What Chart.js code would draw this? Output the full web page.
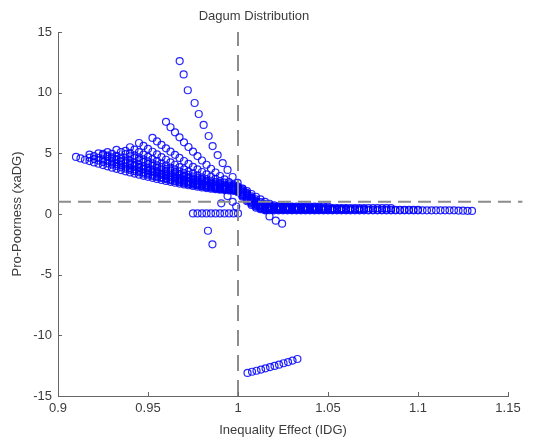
<!DOCTYPE html>
<html>
<head>
<meta charset="utf-8">
<title>Dagum Distribution</title>
<script src="https://cdn.jsdelivr.net/npm/chart.js@4.4.0/dist/chart.umd.min.js"></script>
<style>
  body { margin: 0; background: #fff; }
  #chart { display: block; }
</style>
</head>
<body>
<canvas id="chart" width="538" height="441"></canvas>
<script>
// x positions of the fan lines left of x = 1 (each line ends at 0.9975)
var fanX = [0.91, 0.9125, 0.915, 0.9175, 0.92, 0.9225, 0.925, 0.9275, 0.93, 0.9325,
  0.935, 0.9375, 0.94, 0.9425, 0.945, 0.9475, 0.95, 0.9525, 0.955, 0.9575,
  0.96, 0.9625, 0.965, 0.9675, 0.97, 0.9725, 0.975, 0.9775, 0.98, 0.9825,
  0.985, 0.9875, 0.99, 0.9925, 0.995, 0.9975];
// x positions of the flat band right of x = 1 (each line starts at 1.0)
var bandX = [1.0, 1.0025, 1.005, 1.0075, 1.01, 1.0125, 1.015, 1.0175, 1.02, 1.0225,
  1.025, 1.0275, 1.03, 1.0325, 1.035, 1.0375, 1.04, 1.0425, 1.045, 1.0475,
  1.05, 1.0525, 1.055, 1.0575, 1.06, 1.0625, 1.065, 1.0675, 1.07, 1.0725,
  1.075, 1.0775, 1.08, 1.0825, 1.085, 1.0875, 1.09, 1.0925, 1.095, 1.0975,
  1.1, 1.1025, 1.105, 1.1075, 1.11, 1.1125, 1.115, 1.1175, 1.12, 1.1225,
  1.125, 1.1275, 1.13];

// steepest line, read point by point
var steepX = [0.9676, 0.9698, 0.9721, 0.9759, 0.9782, 0.9809, 0.9837, 0.9859, 0.9887, 0.9915,
  0.9942, 0.997, 0.9998, 1.0025, 1.005, 1.0075, 1.01, 1.0125, 1.015, 1.0175, 1.021, 1.0245];
var steepY = [12.6, 11.5, 10.2, 9.15, 8.24, 7.34, 6.43, 5.6, 4.86, 4.2,
  3.63, 3.05, 2.56, 2.1, 1.7, 1.35, 1.05, 0.7, 0.3, -0.2, -0.55, -0.8];

// fan lines (y values, right-aligned on fanX)
var fan2 = [7.6, 7.15, 6.73, 6.32, 5.91, 5.52, 5.14, 4.77, 4.41, 4.06, 3.73, 3.42, 3.13, 2.86, 2.62, 2.41];
var fan3 = [6.27, 5.98, 5.69, 5.41, 5.14, 4.88, 4.62, 4.37, 4.13, 3.89, 3.67, 3.46, 3.26, 3.07, 2.89, 2.72, 2.58, 2.45, 2.35];
var fan4 = [5.85, 5.61, 5.36, 5.13, 4.91, 4.69, 4.47, 4.26, 4.06, 3.87, 3.68, 3.5, 3.34, 3.18, 3.02, 2.88, 2.74, 2.62, 2.51, 2.42, 2.34, 2.28];
var fan5 = [5.5, 5.3, 5.1, 4.9, 4.71, 4.53, 4.35, 4.17, 4.0, 3.83, 3.67, 3.52, 3.37, 3.22, 3.09, 2.96, 2.83, 2.72, 2.61, 2.51, 2.42, 2.35, 2.28, 2.23];
var fanA = [5.2, 5.02, 4.84, 4.67, 4.5, 4.33, 4.17, 4.01, 3.86, 3.71, 3.57, 3.43, 3.29, 3.17, 3.04, 2.92, 2.81, 2.7, 2.6, 2.51, 2.42, 2.35, 2.28, 2.22, 2.17];
var fan6 = [5.28, 5.11, 4.93, 4.76, 4.6, 4.44, 4.28, 4.13, 3.98, 3.83, 3.69, 3.55, 3.42, 3.29, 3.16, 3.04, 2.93, 2.82, 2.71, 2.61, 2.52, 2.43, 2.35, 2.28, 2.22, 2.16, 2.12];
var fan7 = [5.1, 4.95, 4.79, 4.64, 4.49, 4.35, 4.2, 4.07, 3.93, 3.8, 3.67, 3.54, 3.42, 3.3, 3.18, 3.07, 2.97, 2.86, 2.76, 2.67, 2.58, 2.49, 2.41, 2.34, 2.27, 2.21, 2.15, 2.1, 2.07];
var fanB = [4.95, 4.81, 4.67, 4.53, 4.39, 4.26, 4.13, 4.0, 3.87, 3.75, 3.63, 3.51, 3.4, 3.29, 3.18, 3.08, 2.98, 2.88, 2.78, 2.69, 2.61, 2.53, 2.45, 2.38, 2.31, 2.25, 2.19, 2.14, 2.1, 2.07];
var fan8 = [5.0, 4.86, 4.71, 4.57, 4.44, 4.31, 4.17, 4.04, 3.92, 3.8, 3.67, 3.55, 3.44, 3.33, 3.22, 3.11, 3.01, 2.91, 2.81, 2.72, 2.64, 2.55, 2.47, 2.39, 2.32, 2.26, 2.2, 2.14, 2.09, 2.05, 2.02];
var fan9 = [4.9, 4.77, 4.63, 4.5, 4.38, 4.25, 4.13, 4.02, 3.9, 3.78, 3.67, 3.56, 3.45, 3.34, 3.24, 3.14, 3.04, 2.95, 2.86, 2.76, 2.68, 2.6, 2.52, 2.44, 2.37, 2.3, 2.24, 2.18, 2.12, 2.07, 2.03, 1.99, 1.96];
var fanC = [4.65, 4.53, 4.41, 4.29, 4.18, 4.07, 3.96, 3.85, 3.74, 3.64, 3.53, 3.44, 3.33, 3.24, 3.15, 3.05, 2.97, 2.88, 2.8, 2.72, 2.64, 2.56, 2.49, 2.43, 2.36, 2.3, 2.24, 2.19, 2.14, 2.09, 2.05, 2.02, 1.99];
var fan10 = [4.7, 4.58, 4.47, 4.36, 4.25, 4.14, 4.03, 3.93, 3.82, 3.72, 3.62, 3.52, 3.43, 3.33, 3.24, 3.15, 3.06, 2.98, 2.89, 2.81, 2.73, 2.65, 2.58, 2.51, 2.44, 2.37, 2.31, 2.25, 2.19, 2.14, 2.09, 2.05, 2.0, 1.97, 1.94, 1.91];

// the same lines continued right of x = 1 (y values, left-aligned on bandX)
var band2 = [2.25, 2.08, 1.88, 1.65, 1.42, 1.2, 1.0, 0.84, 0.72, 0.64, 0.6, 0.58, 0.57];
var band3 = [2.2, 1.98, 1.72, 1.45, 1.2, 0.98, 0.82, 0.7, 0.62, 0.57, 0.54, 0.52, 0.51, 0.5, 0.5, 0.5, 0.5];
var band4 = [2.15, 1.92, 1.62, 1.32, 1.05, 0.85, 0.72, 0.65, 0.62, 0.6,
  0.6, 0.6, 0.6, 0.6, 0.6, 0.6, 0.6, 0.6, 0.6, 0.6, 0.6];
var band5 = [2.1, 1.85, 1.55, 1.25, 0.98, 0.78, 0.62, 0.52, 0.47, 0.45,
  0.45, 0.45, 0.45, 0.45, 0.45, 0.45, 0.45, 0.45, 0.45, 0.45,
  0.45, 0.45, 0.45, 0.45, 0.45];
var bandA = [2.05, 1.8, 1.5, 1.2, 0.95, 0.75, 0.62, 0.55, 0.52, 0.5, 0.5, 0.5];
var band6 = [2.0, 1.75, 1.45, 1.15, 0.9, 0.72, 0.62, 0.57, 0.55, 0.55,
  0.55, 0.55, 0.55, 0.55, 0.55, 0.55, 0.55, 0.55, 0.55];
var band7 = [1.95, 1.65, 1.32, 1.02, 0.78, 0.6, 0.5, 0.44, 0.41, 0.4,
  0.4, 0.4, 0.4, 0.4, 0.4, 0.4, 0.4, 0.4, 0.4, 0.4,
  0.4, 0.4, 0.4, 0.4, 0.4, 0.4, 0.4, 0.4, 0.4];
var bandB = [1.95, 1.68, 1.38, 1.08, 0.82, 0.63, 0.52, 0.46, 0.43, 0.42,
  0.42, 0.42, 0.42, 0.42, 0.42, 0.42];
var band8 = [1.9, 1.6, 1.28, 0.98, 0.75, 0.6, 0.54, 0.5, 0.48, 0.48,
  0.48, 0.48, 0.48, 0.48, 0.48, 0.48, 0.48, 0.48, 0.48, 0.48,
  0.48, 0.48, 0.48, 0.48, 0.48, 0.48, 0.48, 0.48, 0.48, 0.48,
  0.48, 0.48, 0.48, 0.48, 0.48];
var band9 = [1.85, 1.5, 1.15, 0.85, 0.62, 0.47, 0.4, 0.37, 0.35, 0.35,
  0.35, 0.35, 0.35, 0.35, 0.35, 0.35, 0.35, 0.35, 0.35, 0.35,
  0.35, 0.35, 0.35, 0.35, 0.35, 0.35, 0.35, 0.35, 0.35, 0.35,
  0.35, 0.35, 0.35, 0.35, 0.35, 0.35, 0.35, 0.35, 0.35, 0.35, 0.35];
var bandC = [1.88, 1.55, 1.2, 0.9, 0.66, 0.5, 0.42, 0.38, 0.37, 0.37,
  0.37, 0.37, 0.37, 0.37, 0.37, 0.37, 0.37, 0.37, 0.37, 0.37,
  0.37, 0.37, 0.37, 0.37, 0.37];
var band10 = [1.8, 1.42, 1.05, 0.75, 0.52, 0.4, 0.34, 0.31, 0.3, 0.3,
  0.3, 0.3, 0.3, 0.3, 0.3, 0.3, 0.3, 0.3, 0.3, 0.3,
  0.3, 0.3, 0.3, 0.3, 0.3, 0.3, 0.3, 0.3, 0.3, 0.3,
  0.3, 0.3, 0.3, 0.3, 0.3, 0.3, 0.3, 0.3, 0.3, 0.3,
  0.3, 0.3, 0.3, 0.3, 0.3, 0.3, 0.3, 0.3, 0.3, 0.28,
  0.27, 0.26, 0.25];

// row sitting on zero just left of x = 1
var zeroRowX = [0.975, 0.9775, 0.98, 0.9825, 0.985, 0.9875, 0.99, 0.9925, 0.995, 0.9975, 1.0];
var zeroRowY = [0.05, 0.05, 0.05, 0.05, 0.05, 0.05, 0.05, 0.05, 0.05, 0.05, 0.05];
// loose points
var strayX = [0.9942, 0.9907, 0.997, 0.999, 0.9833, 0.9858];
var strayY = [1.48, 0.88, 1.0, 0.62, -1.38, -2.5];
// short line near the bottom
var lowX = [1.0053, 1.0078, 1.0103, 1.0128, 1.0153, 1.0178, 1.0203, 1.0228, 1.0253, 1.0278, 1.0303, 1.033];
var lowY = [-13.1, -13.0, -12.92, -12.82, -12.72, -12.62, -12.52, -12.42, -12.3, -12.2, -12.08, -11.95];

// reference lines and axis ranges
var refX = 1;
var refY = 1;
var xTicksMin = 0.9, xTicksMax = 1.15, xStep = 0.05;
var yTicksMin = -15, yTicksMax = 15, yStep = 5;

function pairs(xs, ys) {
  return ys.map(function(y, i) { return {x: xs[i], y: y}; });
}
function fanLine(fanY, bandY) {
  var start = fanX.length - fanY.length;
  return pairs(fanX.slice(start), fanY).concat(pairs(bandX, bandY));
}

var blue = 'rgba(0, 0, 255, 0.85)';
function circles(data) {
  return {
    data: data,
    showLine: false,
    pointStyle: 'circle',
    pointRadius: 3.5,
    borderWidth: 1.2,
    borderColor: blue,
    backgroundColor: 'rgba(0,0,0,0)',
    order: 1
  };
}

var textColor = '#3c3c3c';
var font = {family: "'Liberation Sans', Arial, sans-serif", size: 13, weight: 'normal'};

// small tick marks drawn inside the axes like matlab
var innerTicks = {
  id: 'innerTicks',
  afterDraw: function(chart) {
    var ctx = chart.ctx, area = chart.chartArea;
    var xs = chart.scales.x, ys = chart.scales.y;
    ctx.save();
    ctx.strokeStyle = '#666';
    ctx.lineWidth = 1;
    ctx.beginPath();
    xs.ticks.forEach(function(t) {
      var px = Math.round(xs.getPixelForValue(t.value)) + 0.5;
      ctx.moveTo(px, area.bottom);
      ctx.lineTo(px, area.bottom - 4);
    });
    ys.ticks.forEach(function(t) {
      var py = Math.round(ys.getPixelForValue(t.value)) + 0.5;
      ctx.moveTo(area.left, py);
      ctx.lineTo(area.left + 4, py);
    });
    ctx.stroke();
    ctx.restore();
  }
};

var ctx = document.getElementById('chart').getContext('2d');
var myChart = new Chart(ctx, {
  type: 'scatter',
  data: {
    datasets: [
      {
        data: [{x: refX, y: yTicksMin}, {x: refX, y: yTicksMax}],
        showLine: true, pointRadius: 0, borderColor: '#8c8c8c', borderWidth: 2,
        borderDash: [16, 9], order: 0
      },
      {
        data: [{x: xTicksMin, y: refY}, {x: 1.158, y: refY}],
        showLine: true, pointRadius: 0, borderColor: '#8c8c8c', borderWidth: 2,
        borderDash: [13, 7], clip: false, order: 0
      },
      circles(pairs(steepX, steepY)),
      circles(fanLine(fan2, band2)),
      circles(fanLine(fan3, band3)),
      circles(fanLine(fan4, band4)),
      circles(fanLine(fan5, band5)),
      circles(fanLine(fanA, bandA)),
      circles(fanLine(fan6, band6)),
      circles(fanLine(fan7, band7)),
      circles(fanLine(fanB, bandB)),
      circles(fanLine(fan8, band8)),
      circles(fanLine(fan9, band9)),
      circles(fanLine(fanC, bandC)),
      circles(fanLine(fan10, band10)),
      circles(pairs(zeroRowX, zeroRowY)),
      circles(pairs(strayX, strayY)),
      circles(pairs(lowX, lowY))
    ]
  },
  options: {
    responsive: false,
    animation: false,
    layout: { padding: { left: 0, right: 30, top: 0, bottom: 0 } },
    plugins: {
      legend: { display: false },
      tooltip: { enabled: false },
      title: {
        display: true,
        text: 'Dagum Distribution',
        color: textColor,
        font: font,
        padding: { top: 9, bottom: 7.4 }
      }
    },
    scales: {
      x: {
        type: 'linear',
        min: xTicksMin,
        max: xTicksMax,
        afterFit: function(scale) { scale.height = 45; },
        border: { display: true, color: '#666', width: 1 },
        grid: { drawOnChartArea: false, drawTicks: false },
        ticks: {
          stepSize: xStep,
          padding: 5,
          color: textColor,
          font: font,
          maxRotation: 0,
          callback: function(v) { return String(+v.toFixed(2)); }
        },
        title: {
          display: true,
          text: 'Inequality Effect (IDG)',
          color: textColor,
          font: font,
          padding: { top: 0, bottom: 3 }
        }
      },
      y: {
        type: 'linear',
        min: yTicksMin,
        max: yTicksMax,
        afterFit: function(scale) { scale.width = 58; },
        border: { display: true, color: '#666', width: 1 },
        grid: { drawOnChartArea: false, drawTicks: false },
        ticks: {
          stepSize: yStep,
          padding: 6,
          color: textColor,
          font: font
        },
        title: {
          display: true,
          text: 'Pro-Poorness (xaDG)',
          color: textColor,
          font: font,
          padding: { top: 10, bottom: 0 }
        }
      }
    }
  },
  plugins: [innerTicks]
});
</script>
</body>
</html>
